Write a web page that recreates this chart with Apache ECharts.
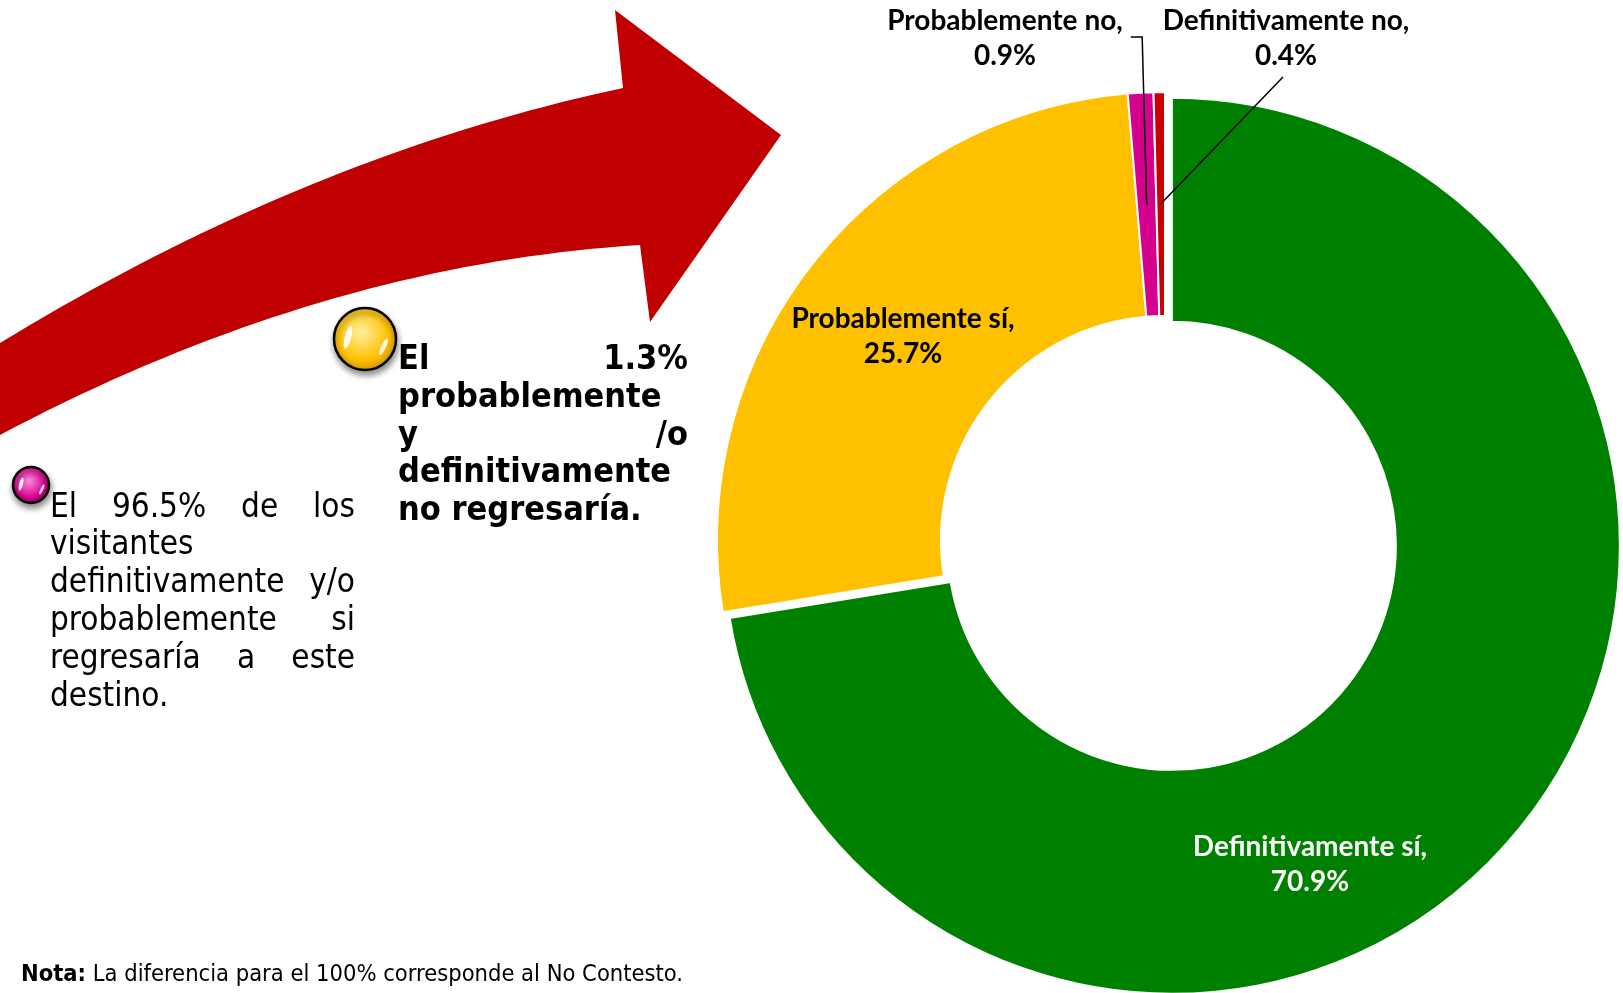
<!DOCTYPE html>
<html>
<head>
<meta charset="utf-8">
<script src="https://cdn.jsdelivr.net/npm/echarts@6/dist/echarts.min.js"></script>
<style>
html,body{margin:0;padding:0;background:#fff;}
#c{width:1623px;height:993px;}
</style>
</head>
<body>
<div id="c"></div>
<script>
// ---------- DATA ----------
const categories = ['Definitivamente sí', 'Probablemente sí', 'Probablemente no', 'Definitivamente no'];
const values = [70.9, 25.7, 0.9, 0.4];
const sliceColors = ['#008000', '#FFC000', '#D6008F', '#CC0000'];
const labelColors = ['#ffffff', '#000000', '#000000', '#000000'];
const labelPlacement = ['inside', 'inside', 'outside', 'outside'];
const explodedIndex = 0;   // the "Definitivamente sí" slice is pulled out slightly

const leftLines = [['El', '96.5%', 'de', 'los'], ['visitantes'], ['definitivamente', 'y/o'], ['probablemente', 'si'], ['regresaría', 'a', 'este'], ['destino.']];
const boldLines = [['El', '1.3%'], ['probablemente'], ['y', '/o'], ['definitivamente'], ['no regresaría.']];
const noteBold = 'Nota:';
const noteText = ' La diferencia para el 100% corresponde al No Contesto.';

// ---------- LAYOUT ----------
const CENTER = [1165, 540];
const RADII = [224, 448];
const EXPLODE = 9;
const LABEL_POS = [{x: 1310, y: 864}, {x: 903, y: 336}, {x: 1005, y: 38}, {x: 1286, y: 38}];
const TEXT_FONT = '"DejaVu Sans Condensed", "DejaVu Sans", sans-serif';
const LABEL_FONT = 'Lato, "Open Sans", sans-serif';
const LABEL_SIZE = 28;

const chart = echarts.init(document.getElementById('c'), null, {renderer: 'canvas'});

const mctx = document.createElement('canvas').getContext('2d');
function measure(t, font) { mctx.font = font; return mctx.measureText(t).width; }

function justified(lines, x, width, y0, lh, font, lastLeft) {
  const els = [];
  lines.forEach((words, i) => {
    const y = y0 + i * lh;
    const isLast = i === lines.length - 1;
    if (words.length === 1 || (isLast && lastLeft)) {
      els.push({type: 'text', z: 5, style: {text: words.join(' '), x: x, y: y, font: font, fill: '#000', verticalAlign: 'middle', align: 'left'}});
      return;
    }
    const ws = words.map(w => measure(w, font));
    const total = ws.reduce((a, b) => a + b, 0);
    const gap = (width - total) / (words.length - 1);
    let cx = x;
    words.forEach((w, k) => {
      els.push({type: 'text', z: 5, style: {text: w, x: cx, y: y, font: font, fill: '#000', verticalAlign: 'middle', align: 'left'}});
      cx += ws[k] + gap;
    });
  });
  return els;
}

function quad(p0, c, p2, n) {
  const pts = [];
  for (let k = 0; k <= n; k++) {
    const t = k / n, u = 1 - t;
    pts.push([u * u * p0[0] + 2 * u * t * c[0] + t * t * p2[0], u * u * p0[1] + 2 * u * t * c[1] + t * t * p2[1]]);
  }
  return pts;
}

function streak(x, y, ry, sx, rot, alpha) {
  return {type: 'circle', z: 7, x: x, y: y, scaleX: sx, rotation: rot,
    shape: {cx: 0, cy: 0, r: ry}, style: {fill: 'rgba(255,255,255,' + alpha + ')'}};
}

function ball(cx, cy, r, c1, c2, c3) {
  return [
    {type: 'circle', z: 6, shape: {cx: cx, cy: cy, r: r},
      style: {
        fill: {type: 'radial', x: 0.45, y: 0.4, r: 0.65, colorStops: [
          {offset: 0, color: c1}, {offset: 0.65, color: c2}, {offset: 1, color: c3}
        ]},
        stroke: '#000', lineWidth: 2.5,
        shadowColor: 'rgba(0,0,0,0.45)', shadowBlur: 6, shadowOffsetY: 4, shadowOffsetX: 1
      }},
    streak(cx - r * 0.55, cy - r * 0.05, r * 0.38, 0.28, -0.25, 0.9),
    streak(cx + r * 0.6, cy + r * 0.25, r * 0.3, 0.25, -0.45, 0.85)
  ];
}

const arrowPts = []
  .concat(quad([0, 343], [308, 155], [623, 88], 40))
  .concat([[615, 10], [781, 135], [650, 322]])
  .concat(quad([640, 245], [320, 265], [0, 435], 40));

const graphics = [];
graphics.push({type: 'polygon', z: 1, shape: {points: arrowPts}, style: {fill: '#C00000'}});
graphics.push(...ball(365, 339, 31, '#FFF0A0', '#FFC000', '#C98F00'));
graphics.push(...ball(31, 485, 18, '#FF8ADB', '#D6008F', '#7A0050'));
graphics.push(...justified(boldLines, 398, 290, 360.5, 37.6, 'bold 34px ' + TEXT_FONT, true));
graphics.push(...justified(leftLines, 50, 305, 508, 37.8, '33px ' + TEXT_FONT, true));
graphics.push({
  type: 'text', z: 5,
  style: {
    text: '{b|' + noteBold + '}{r|' + noteText + '}',
    x: 21, y: 975, verticalAlign: 'middle',
    rich: {
      b: {fontFamily: TEXT_FONT, fontWeight: 'bold', fontSize: 23.5, fill: '#000'},
      r: {fontFamily: TEXT_FONT, fontSize: 23.5, fill: '#000'}
    }
  }
});

// direction in which the exploded slice is pulled (along its bisector)
const total = values.reduce((a, b) => a + b, 0);
let before = 0; for (let k = 0; k < explodedIndex; k++) before += values[k];
const midTheta = (before + values[explodedIndex] / 2) / total * 2 * Math.PI;
const explodedCenter = [CENTER[0] + EXPLODE * Math.sin(midTheta), CENTER[1] - EXPLODE * Math.cos(midTheta)];

const mainData = categories.map((name, i) => ({
  name: name,
  value: values[i],
  itemStyle: i === explodedIndex ? {color: 'rgba(0,0,0,0)', borderWidth: 0} : {color: sliceColors[i]},
  label: {position: labelPlacement[i], color: labelColors[i]},
  labelLine: {show: false}
}));
const explodedData = categories.map((name, i) => ({
  name: name,
  value: values[i],
  itemStyle: i === explodedIndex ? {color: sliceColors[i]} : {color: 'rgba(0,0,0,0)', borderWidth: 0},
  label: {show: false},
  labelLine: {show: false}
}));

const common = {
  type: 'pie',
  radius: RADII,
  startAngle: 90,
  clockwise: true,
  avoidLabelOverlap: false,
  minShowLabelAngle: 0,
  itemStyle: {borderColor: '#ffffff', borderWidth: 2},
  emphasis: {disabled: true},
  labelLine: {show: false}
};

chart.setOption({
  animation: false,
  backgroundColor: '#ffffff',
  graphic: graphics,
  series: [
    Object.assign({}, common, {
      z: 3,
      center: CENTER,
      label: {
        show: true,
        fontFamily: LABEL_FONT,
        fontWeight: 'bold',
        fontSize: LABEL_SIZE,
        lineHeight: 35,
        align: 'center',
        formatter: p => p.name + ',\n' + p.value.toFixed(1) + '%'
      },
      labelLayout: function (params) {
        const pos = LABEL_POS[params.dataIndex];
        return {x: pos.x, y: pos.y, align: 'center', verticalAlign: 'middle'};
      },
      data: mainData
    }),
    Object.assign({}, common, {
      z: 2,
      silent: true,
      center: explodedCenter,
      label: {show: false},
      data: explodedData
    })
  ]
});

// ---------- leader lines from the library's own slice layout ----------
function anchorOf(idx) {
  let lay;
  try { lay = chart.getModel().getSeriesByIndex(0).getData().getItemLayout(idx); } catch (e) { lay = null; }
  if (!lay) {
    let acc = 0; for (let k = 0; k < idx; k++) acc += values[k];
    const s = -Math.PI / 2 + acc / total * 2 * Math.PI, e = s + values[idx] / total * 2 * Math.PI;
    lay = {cx: CENTER[0], cy: CENTER[1], r: RADII[1], r0: RADII[0], startAngle: s, endAngle: e};
  }
  const mid = (lay.startAngle + lay.endAngle) / 2;
  const rm = (lay.r + lay.r0) / 2;
  return [lay.cx + rm * Math.cos(mid), lay.cy + rm * Math.sin(mid)];
}

const a2 = anchorOf(2), a3 = anchorOf(3);
const lblFont = 'bold ' + LABEL_SIZE + 'px ' + LABEL_FONT;
const w2 = measure(categories[2] + ',', lblFont);
const p2 = LABEL_POS[2], p3 = LABEL_POS[3];
const leaders = [
  {type: 'polyline', z: 20, shape: {points: [a2, [a2[0] - 4.5, p2.y - 1], [p2.x + w2 / 2 + 8, p2.y - 1]]},
    style: {stroke: '#000', lineWidth: 1.5, fill: null}},
  {type: 'polyline', z: 20, shape: {points: [a3, [p3.x - 3, p3.y + 39]]},
    style: {stroke: '#000', lineWidth: 1.5, fill: null}}
];
chart.setOption({graphic: graphics.concat(leaders)});
</script>
</body>
</html>
